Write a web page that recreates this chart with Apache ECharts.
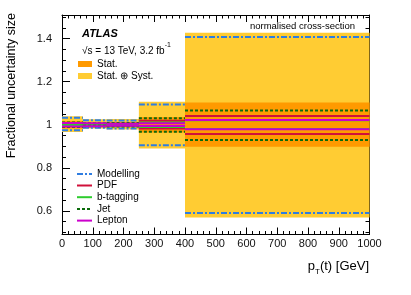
<!DOCTYPE html>
<html>
<head>
<meta charset="utf-8">
<script src="https://cdn.jsdelivr.net/npm/echarts@6/dist/echarts.min.js"></script>
<style>html,body{margin:0;padding:0;background:#fff}#c{width:411px;height:295px}</style>
</head>
<body>
<div id="c"></div>
<script>
// ---- data ----
var binEdges = [0, 68, 145, 250, 400, 1000];
var statUp     = [1.017, 1.012, 1.012, 1.036, 1.103];
var statDown   = [0.983, 0.988, 0.988, 0.964, 0.898];
var totalUp    = [1.040, 1.026, 1.027, 1.107, 1.428];
var totalDown  = [0.966, 0.983, 0.978, 0.890, 0.569];
var modelUp    = [1.033, 1.021, 1.020, 1.094, 1.408];
var modelDown  = [0.974, 0.986, 0.982, 0.905, 0.590];
var pdfUp      = [1.004, 1.004, 1.005, 1.019, 1.041];
var pdfDown    = [0.996, 0.996, 0.995, 0.983, 0.957];
var btagUp     = [1.003, 1.003, 1.003, 1.010, 1.021];
var btagDown   = [0.997, 0.997, 0.997, 0.990, 0.980];
var jetUp      = [1.010, 1.007, 1.008, 1.030, 1.066];
var jetDown    = [0.990, 0.993, 0.992, 0.968, 0.929];
var lepUp      = [1.008, 1.007, 1.005, 1.007, 1.022];
var lepDown    = [0.992, 0.993, 0.995, 0.994, 0.979];
var yMajorTicks = [0.6, 0.8, 1.0, 1.2, 1.4];
var yMinorTicks = [0.5,0.55,0.65,0.7,0.75,0.85,0.9,0.95,1.05,1.1,1.15,1.25,1.3,1.35,1.45,1.5];

function binData(up, down) {
  var d = [];
  for (var i = 0; i < up.length; i++) d.push([binEdges[i], binEdges[i+1], down[i], up[i]]);
  return d;
}
function bandSeries(name, up, down, color) {
  return {
    type: 'custom', name: name, clip: true, data: binData(up, down),
    renderItem: function (params, api) {
      var p0 = api.coord([api.value(0), api.value(3)]);
      var p1 = api.coord([api.value(1), api.value(2)]);
      return {type: 'rect', shape: {x: p0[0], y: p0[1], width: p1[0]-p0[0], height: p1[1]-p0[1]},
              style: {fill: color}};
    }
  };
}
function lineSeries(name, up, down, color, dash) {
  return {
    type: 'custom', name: name, clip: true, data: binData(up, down),
    renderItem: function (params, api) {
      var a0 = api.coord([api.value(0), api.value(3)]);
      var a1 = api.coord([api.value(1), api.value(3)]);
      var b0 = api.coord([api.value(0), api.value(2)]);
      var b1 = api.coord([api.value(1), api.value(2)]);
      var st = {stroke: color, lineWidth: 2, lineDash: dash || null, fill: null};
      return {type: 'group', children: [
        {type: 'line', shape: {x1: a0[0], y1: a0[1], x2: a1[0], y2: a1[1]}, style: st},
        {type: 'line', shape: {x1: b0[0], y1: b0[1], x2: b1[0], y2: b1[1]}, style: st}
      ]};
    }
  };
}

var C = {
  stat: '#ff9a00', total: '#ffcc33', model: '#2f7de1', pdf: '#d0103a',
  btag: '#2ecc2e', jet: '#0b6b0b', lep: '#cc00cc'
};
var F = 'Liberation Sans, Arial, Helvetica, sans-serif';

var chart = echarts.init(document.getElementById('c'), null, {renderer: 'canvas'});

function xAx(pos, labels) {
  return {
    type: 'value', position: pos, min: 0, max: 1000, interval: 100,
    axisLine: {show: true, onZero: false, lineStyle: {color: '#000', width: 1}},
    axisTick: {show: true, inside: true, length: 7, lineStyle: {color: '#000'}},
    minorTick: {show: true, splitNumber: 5, length: 3.5, lineStyle: {color: '#000'}},
    axisLabel: {show: labels, color: '#111', fontSize: 11, fontFamily: F, margin: 4,
                formatter: function (v) { return String(v); }},
    splitLine: {show: false}, minorSplitLine: {show: false}
  };
}
function yAx(pos, major) {
  return {
    type: 'value', position: pos, min: 0.49, max: 1.51,
    axisLine: {show: major, onZero: false, lineStyle: {color: '#000', width: 1}},
    axisTick: {show: true, inside: true, length: major ? 8 : 4, customValues: major ? yMajorTicks : yMinorTicks,
               lineStyle: {color: '#000'}},
    axisLabel: {show: major && pos === 'left', customValues: yMajorTicks, color: '#111', fontSize: 11, fontFamily: F, margin: 10,
                formatter: function (v) { return String(+(+v).toFixed(2)); }},
    splitLine: {show: false}
  };
}

var lx = 77, tx = 97;
var legendLines = [
  ['Modelling', C.model, [6,2,2,2], 174],
  ['PDF', C.pdf, null, 185.5],
  ['b-tagging', C.btag, null, 197.2],
  ['Jet', C.jet, [3,2], 209],
  ['Lepton', C.lep, null, 220.6]
];
var graphics = [];
legendLines.forEach(function (l) {
  graphics.push({type: 'line', shape: {x1: lx, y1: l[3], x2: lx + 15, y2: l[3]},
                 style: {stroke: l[1], lineWidth: 2, lineDash: l[2]}, z: 100});
  graphics.push({type: 'text', x: tx, y: l[3], style: {text: l[0], font: '10px ' + F, fill: '#000',
                 textVerticalAlign: 'middle'}, z: 100});
});
graphics.push({type: 'rect', shape: {x: 78, y: 61, width: 14, height: 6}, style: {fill: C.stat}, z: 100});
graphics.push({type: 'text', x: tx, y: 64, style: {text: 'Stat.', font: '10px ' + F, fill: '#000', textVerticalAlign: 'middle'}, z: 100});
graphics.push({type: 'rect', shape: {x: 78, y: 73, width: 14, height: 6}, style: {fill: C.total}, z: 100});
graphics.push({type: 'text', x: tx, y: 76, style: {text: 'Stat. \u2295 Syst.', font: '10px ' + F, fill: '#000', textVerticalAlign: 'middle'}, z: 100});
graphics.push({type: 'text', x: 82, y: 34, style: {text: 'ATLAS', font: 'italic bold 11px ' + F, fill: '#000', textVerticalAlign: 'middle'}, z: 100});
graphics.push({type: 'text', x: 82, y: 49, style: {
  text: '{a|\u221as = 13 TeV, 3.2 fb}{s|-1}',
  rich: {a: {font: '10px ' + F, fill: '#000', lineHeight: 14, verticalAlign: 'bottom'},
         s: {font: '7px ' + F, fill: '#000', lineHeight: 14, verticalAlign: 'top'}},
  textVerticalAlign: 'middle'}, z: 100});
graphics.push({type: 'text', x: 355, y: 26, style: {text: 'normalised cross-section', font: '9.5px ' + F, fill: '#000',
               textAlign: 'right', textVerticalAlign: 'middle'}, z: 100});
graphics.push({type: 'text', x: 369, y: 266, style: {
  text: '{a|p}{b|T}{a|(t) [GeV]}',
  rich: {a: {font: '13px ' + F, fill: '#000', lineHeight: 18, verticalAlign: 'middle'},
         b: {font: '8px ' + F, fill: '#000', lineHeight: 20, verticalAlign: 'bottom'}},
  textAlign: 'right', textVerticalAlign: 'middle'}, z: 100});
graphics.push({type: 'text', x: 12, y: 13, rotation: Math.PI / 2, style: {
  text: 'Fractional uncertainty size', font: '12.5px ' + F, fill: '#000',
  textAlign: 'right', textVerticalAlign: 'middle'}, z: 100});

chart.setOption({
  animation: false,
  backgroundColor: '#fff',
  grid: {left: 62, right: 41.5, top: 15, bottom: 60.5, containLabel: false},
  xAxis: [xAx('bottom', true), xAx('top', false)],
  yAxis: [yAx('left', true), yAx('left', false), yAx('right', true), yAx('right', false)],
  series: [
    bandSeries('Stat. \u2295 Syst.', totalUp, totalDown, C.total),
    bandSeries('Stat.', statUp, statDown, C.stat),
    lineSeries('Modelling', modelUp, modelDown, C.model, [6,2,2,2]),
    lineSeries('PDF', pdfUp, pdfDown, C.pdf),
    lineSeries('b-tagging', btagUp, btagDown, C.btag),
    lineSeries('Jet', jetUp, jetDown, C.jet, [3,2]),
    lineSeries('Lepton', lepUp, lepDown, C.lep)
  ],
  graphic: graphics
});
</script>
</body>
</html>
